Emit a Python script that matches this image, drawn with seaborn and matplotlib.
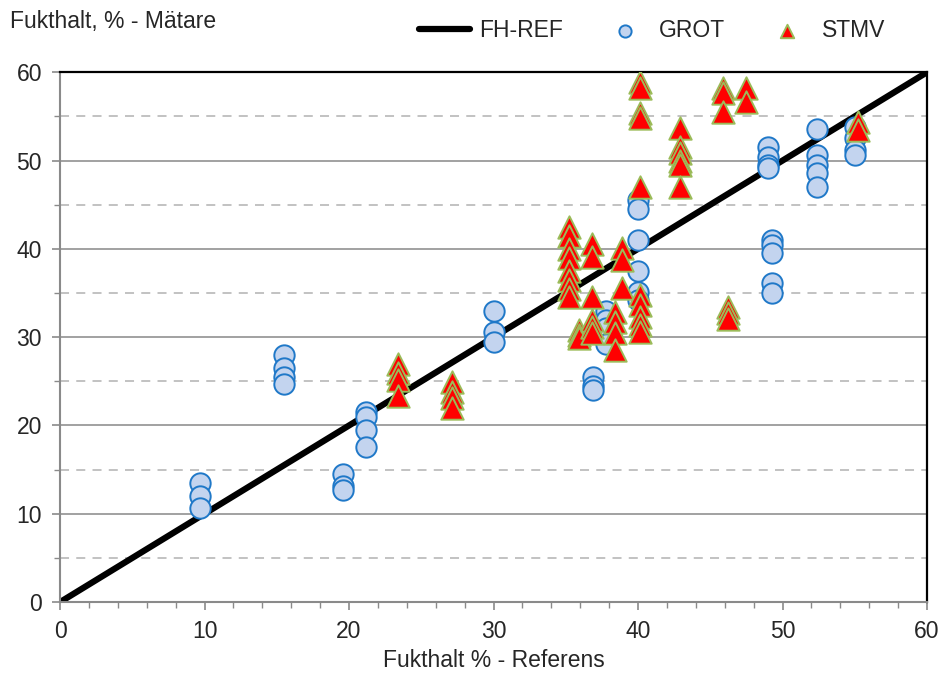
import numpy as np
import pandas as pd
import matplotlib
matplotlib.use("Agg")
import matplotlib.pyplot as plt
import seaborn as sns
from matplotlib.ticker import MultipleLocator

# reference line
ref_x = [0, 60]
ref_y = [0, 60]

# GROT points (x = reference, y = meter)
grot_x = [9.7, 9.7, 9.7,
          15.5, 15.5, 15.5, 15.5,
          19.6, 19.6, 19.6,
          21.2, 21.2, 21.2, 21.2,
          30.0, 30.0, 30.0,
          36.9, 36.9, 36.9,
          37.8, 37.8, 37.8, 37.8,
          40.0, 40.0, 40.0, 40.0, 40.0, 40.0,
          49.0, 49.0, 49.0, 49.0,
          49.3, 49.3, 49.3, 49.3, 49.3,
          52.4, 52.4, 52.4, 52.4, 52.4,
          55.0, 55.0, 55.0, 55.0]
grot_y = [13.5, 12.0, 10.7,
          28.0, 26.5, 25.5, 24.7,
          14.5, 13.1, 12.7,
          21.5, 21.0, 19.5, 17.6,
          33.0, 30.6, 29.5,
          25.5, 24.5, 24.0,
          33.0, 32.0, 31.0, 29.2,
          45.5, 44.5, 41.0, 37.5, 35.1, 34.2,
          51.5, 50.4, 49.5, 49.1,
          41.0, 40.4, 39.5, 36.1, 35.0,
          53.6, 50.6, 49.5, 48.6, 47.0,
          53.8, 52.5, 51.2, 50.6]

# STMV points
stmv_x = [23.4, 23.4, 23.4, 23.4,
          27.1, 27.1, 27.1, 27.1,
          35.2, 35.2, 35.2, 35.2, 35.2, 35.2, 35.2, 35.2,
          35.9, 35.9, 35.9,
          36.8, 36.8, 36.8, 36.8, 36.8, 36.8,
          38.4, 38.4, 38.4, 38.4,
          38.9, 38.9, 38.9,
          40.1, 40.1, 40.1, 40.1, 40.1, 40.1, 40.1, 40.1, 40.1, 40.1,
          42.9, 42.9, 42.9, 42.9, 42.9, 42.9,
          45.9, 45.9, 45.9,
          46.2, 46.2, 46.2,
          47.5, 47.5,
          55.2, 55.2]
stmv_y = [27.0, 25.9, 25.1, 23.3,
          24.9, 23.8, 23.1, 22.0,
          42.5, 41.5, 40.0, 39.0, 37.5, 36.5, 35.5, 34.5,
          30.8, 30.2, 29.9,
          40.6, 39.1, 34.5, 31.9, 31.1, 30.5,
          32.8, 31.7, 30.5, 28.5,
          40.1, 38.7, 35.6,
          58.9, 58.2, 55.4, 54.8, 47.0, 34.8, 33.6, 32.3, 31.4, 30.6,
          53.7, 51.5, 50.8, 50.0, 49.5, 47.0,
          58.2, 57.6, 55.5,
          33.4, 32.7, 32.1,
          58.2, 56.6,
          54.4, 53.5]

sns.set_style("white")
plt.rcParams['font.family'] = ['Liberation Sans', 'DejaVu Sans']

fig = plt.figure(figsize=(9.41, 6.75), dpi=100)
ax = fig.add_axes([0.0638, 0.108, 0.9214, 0.785])

# grid lines
for v in range(10, 60, 10):
    ax.axhline(v, color="#9a9a9a", lw=1.3, zorder=0)
for v in range(5, 60, 10):
    ax.axhline(v, color="#bdbdbd", lw=1.3, ls=(0, (5, 4)), zorder=0)

sns.lineplot(x=ref_x, y=ref_y, ax=ax, color="black", lw=4.5, label="FH-REF", zorder=2)
sns.scatterplot(x=grot_x, y=grot_y, ax=ax, marker="o", s=215, color="#c3d4ef",
                edgecolor="#1f78c8", linewidth=1.4, label="GROT", zorder=3)
sns.scatterplot(x=stmv_x, y=stmv_y, ax=ax, marker="^", s=260, color="#ff0000",
                edgecolor="#9bbb59", linewidth=1.4, label="STMV", zorder=4)

ax.set_xlim(0, 60)
ax.set_ylim(0, 60)
ax.xaxis.set_major_locator(MultipleLocator(10))
ax.xaxis.set_minor_locator(MultipleLocator(2))
ax.yaxis.set_major_locator(MultipleLocator(10))
ax.yaxis.set_minor_locator(MultipleLocator(5))
ax.tick_params(axis="both", which="major", direction="out", length=6, width=1.2,
               color="#8a8a8a", labelsize=16.5, pad=7)
ax.tick_params(axis="both", which="minor", direction="out", length=4, width=1.0,
               color="#8a8a8a")
ax.tick_params(axis="x", which="both", bottom=True)
ax.tick_params(axis="y", which="both", left=True)

for side in ["left", "bottom"]:
    ax.spines[side].set_color("#8a8a8a")
    ax.spines[side].set_linewidth(1.5)
ax.spines["top"].set_color("black")
ax.spines["top"].set_linewidth(1.6)
ax.spines["right"].set_color("black")
ax.spines["right"].set_linewidth(1.6)

ax.set_xlabel("Fukthalt % - Referens", fontsize=16.5, labelpad=4)
ax.set_ylabel("")
fig.text(0.011, 0.968, "Fukthalt, % - Mätare", fontsize=16.5, ha="left", va="center")

ax.legend(loc="center", bbox_to_anchor=(0.683, 1.079), ncol=3, frameon=False,
          fontsize=16.5, handlelength=2.2, columnspacing=1.6, handletextpad=0.4,
          markerscale=0.6)

plt.savefig("out.png", dpi=100)
